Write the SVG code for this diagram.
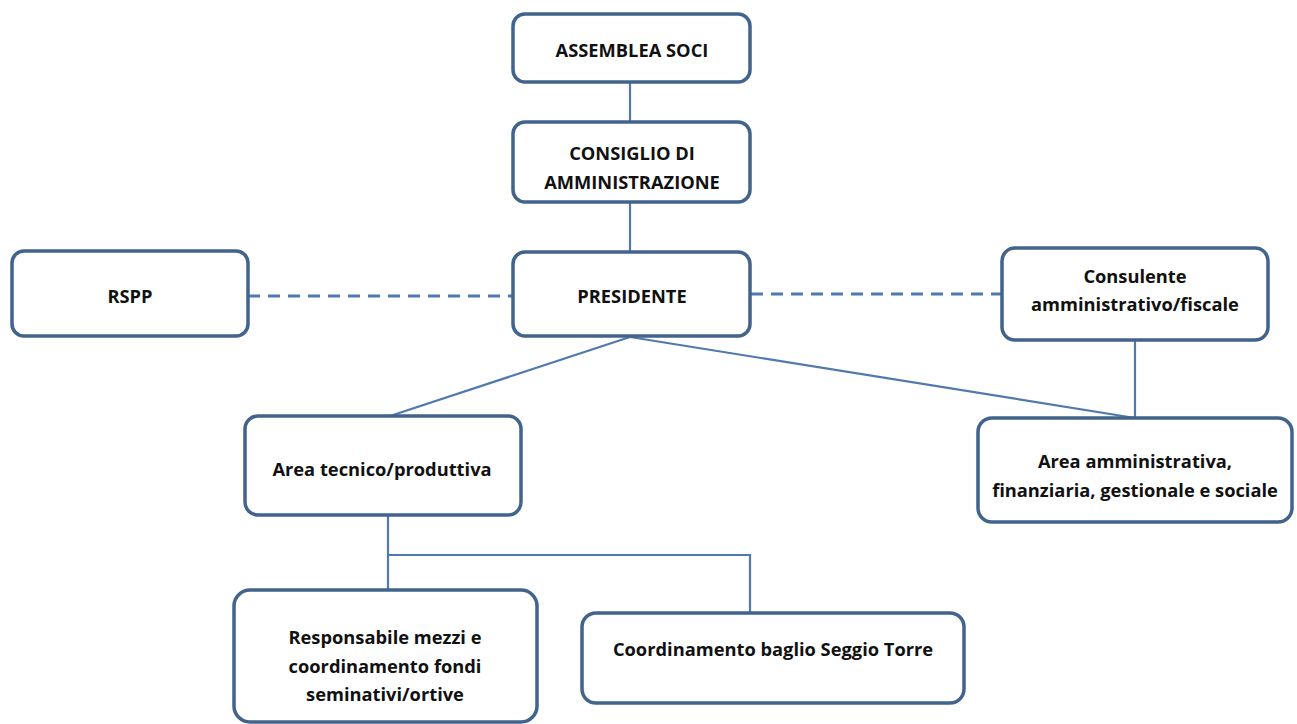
<svg xmlns="http://www.w3.org/2000/svg" width="1297" height="724" viewBox="0 0 1297 724">
<style>
.box{fill:#fff;stroke:#42638c;stroke-width:3.5}
.t{font-family:"Open Sans","Noto Sans","Liberation Sans",sans-serif;font-weight:bold;font-size:18.3px;fill:#111;text-anchor:middle;dominant-baseline:central}
.c{stroke:#5079ad;stroke-width:2.2;fill:none}
.d{stroke:#5079ad;stroke-width:3;fill:none;stroke-dasharray:12 8}
</style>
<rect width="1297" height="724" fill="#fff"/>
<g id="connectors">
<line class="c" x1="630" y1="82" x2="630" y2="122"/>
<line class="c" x1="630" y1="202" x2="630" y2="252"/>
<line class="d" x1="248" y1="296" x2="513" y2="296"/>
<line class="d" x1="751" y1="294" x2="1002" y2="294"/>
<line class="c" x1="630" y1="337" x2="390" y2="416"/>
<line class="c" x1="630" y1="337" x2="1135" y2="418"/>
<line class="c" x1="1135" y1="340" x2="1135" y2="418"/>
<polyline class="c" points="388,515 388,590"/>
<polyline class="c" points="388,555 750,555 750,613"/>
</g>
<g id="assemblea"><rect class="box" x="513" y="14" width="237" height="68" rx="12"/><text class="t" x="632" y="49">ASSEMBLEA SOCI</text></g>
<g id="consiglio"><rect class="box" x="513" y="122" width="237" height="80" rx="12"/><text class="t" x="632" y="152">CONSIGLIO DI</text><text class="t" x="632" y="181">AMMINISTRAZIONE</text></g>
<g id="rspp"><rect class="box" x="12" y="251" width="236" height="85" rx="12"/><text class="t" x="130" y="295">RSPP</text></g>
<g id="presidente"><rect class="box" x="513" y="252" width="237" height="84" rx="12"/><text class="t" x="632" y="295">PRESIDENTE</text></g>
<g id="consulente"><rect class="box" x="1002" y="248" width="266" height="92" rx="13"/><text class="t" x="1135" y="275">Consulente</text><text class="t" x="1135" y="303">amministrativo/fiscale</text></g>
<g id="area-tecnico"><rect class="box" x="245" y="416" width="276" height="99" rx="13"/><text class="t" x="382" y="468">Area tecnico/produttiva</text></g>
<g id="area-amministrativa"><rect class="box" x="978" y="418" width="314" height="104" rx="14"/><text class="t" x="1135" y="460">Area amministrativa,</text><text class="t" x="1135" y="489">finanziaria, gestionale e sociale</text></g>
<g id="responsabile"><rect class="box" x="234" y="590" width="303" height="132" rx="16"/><text class="t" x="385" y="636">Responsabile mezzi e</text><text class="t" x="385" y="665">coordinamento fondi</text><text class="t" x="385" y="693">seminativi/ortive</text></g>
<g id="coordinamento"><rect class="box" x="582" y="613" width="382" height="90" rx="14"/><text class="t" x="773" y="648">Coordinamento baglio Seggio Torre</text></g>
</svg>
